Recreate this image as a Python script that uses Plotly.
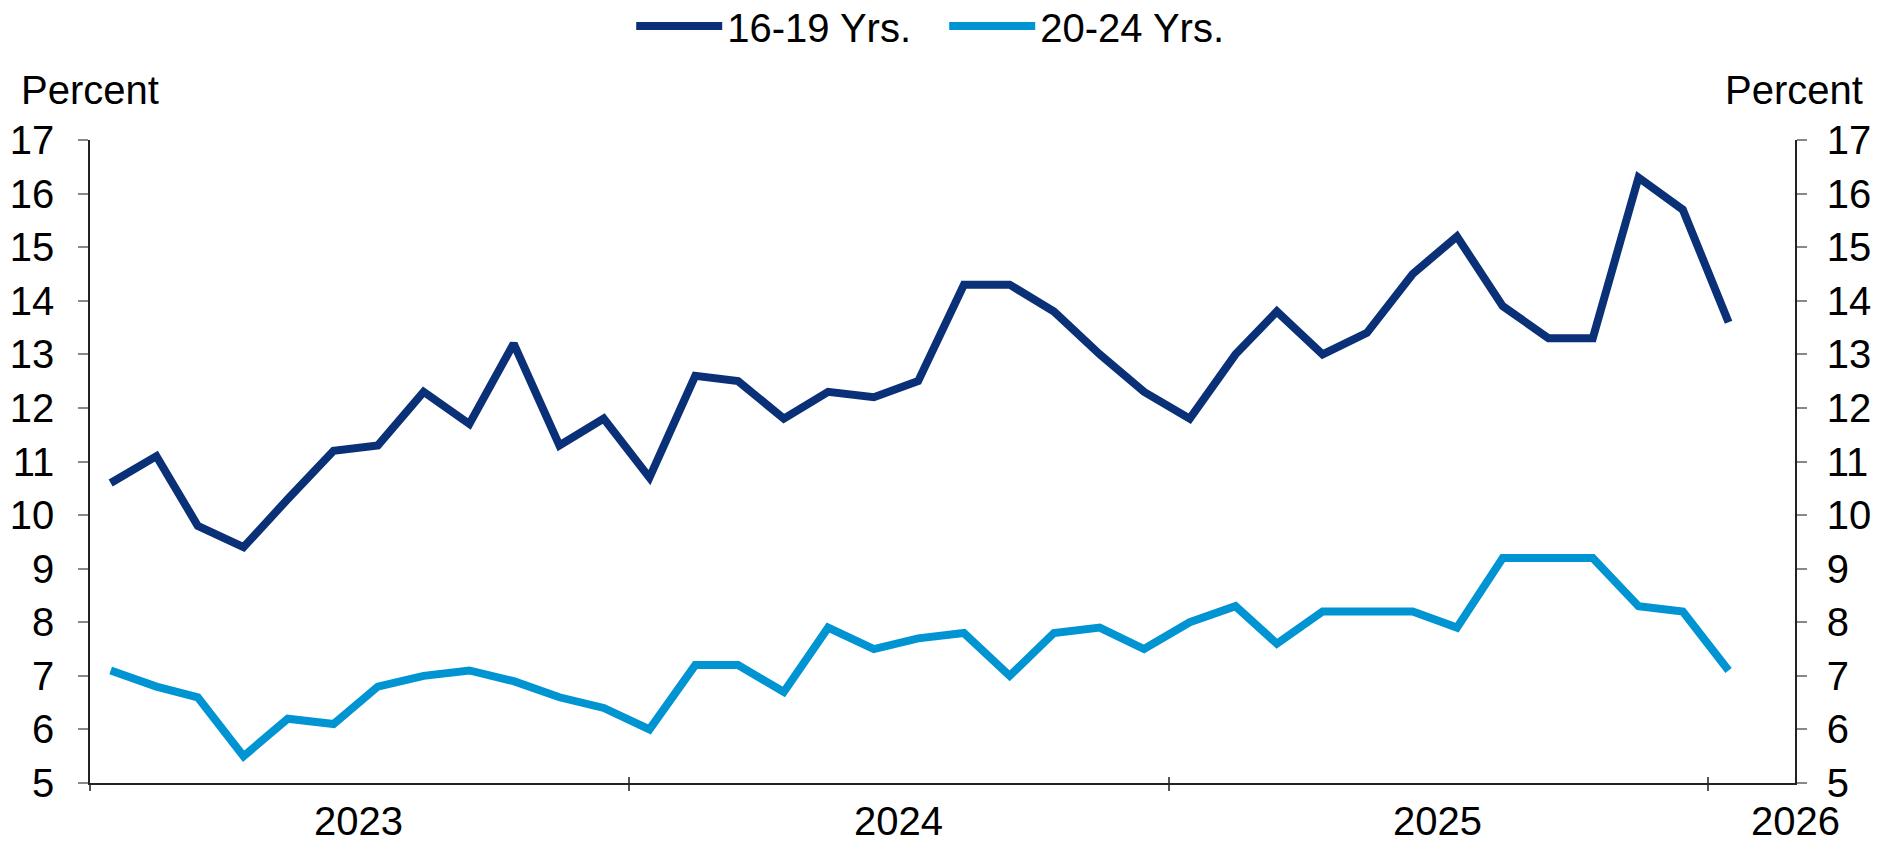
import pandas as pd
import plotly.graph_objects as go

# ---- data ----
months = pd.date_range("2023-01-01", "2026-01-01", freq="MS")
x_dates = [(m + pd.Timedelta(days=14)).strftime("%Y-%m-%d") for m in months]

teens_16_19 = [10.6, 11.1, 9.8, 9.4, 10.3, 11.2, 11.3, 12.3, 11.7, 13.2, 11.3, 11.8,
               10.7, 12.6, 12.5, 11.8, 12.3, 12.2, 12.5, 14.3, 14.3, 13.8, 13.0, 12.3,
               11.8, 13.0, 13.8, 13.0, 13.4, 14.5, 15.2, 13.9, 13.3, 13.3, 16.3, 15.7,
               13.6]
young_20_24 = [7.1, 6.8, 6.6, 5.5, 6.2, 6.1, 6.8, 7.0, 7.1, 6.9, 6.6, 6.4,
               6.0, 7.2, 7.2, 6.7, 7.9, 7.5, 7.7, 7.8, 7.0, 7.8, 7.9, 7.5,
               8.0, 8.3, 7.6, 8.2, 8.2, 8.2, 7.9, 9.2, 9.2, 9.2, 8.3, 8.2,
               7.1]
series_names = ["16-19 Yrs.", "20-24 Yrs."]
series_colors = ["#0A3078", "#0094D3"]

year_labels = ["2023", "2024", "2025", "2026"]
year_label_pos = ["2023-07-02", "2024-07-02", "2025-07-02", "2026-03-01"]
year_ticks = ["2023-01-01", "2024-01-01", "2025-01-01", "2026-01-01"]
x_range = ["2023-01-01", "2026-03-01"]
y_range = [5, 17]

FONT = "Liberation Sans, Arial, sans-serif"
FS = 40

fig = go.Figure()
for name, vals, col in zip(series_names, [teens_16_19, young_20_24], series_colors):
    fig.add_trace(go.Scatter(x=x_dates, y=vals, mode="lines", name=name,
                             line=dict(color=col, width=8), cliponaxis=False))

W, H = 1877, 844
ml, mr, mt, mb = 90, 82, 140, 61
ph = H - mt - mb

fig.update_layout(
    width=W, height=H,
    margin=dict(l=ml, r=mr, t=mt, b=mb, autoexpand=False),
    paper_bgcolor="white", plot_bgcolor="white",
    font=dict(family=FONT, size=FS, color="black"),
    showlegend=True,
    legend=dict(orientation="h", x=0.501, xanchor="center",
                y=1 + 114 / ph, yanchor="middle",
                font=dict(size=FS), itemwidth=86, entrywidth=212,
                bgcolor="rgba(0,0,0,0)"),
    xaxis=dict(type="date", range=x_range, showgrid=False, zeroline=False,
               showline=True, linecolor="#222222", linewidth=1.5,
               tickmode="array", tickvals=year_ticks, ticktext=["" for _ in year_ticks],
               ticks="outside", ticklen=6, tickcolor="#555555", tickwidth=2),
    xaxis2=dict(type="date", range=x_range, overlaying="x", anchor="y", side="bottom",
                showgrid=False, zeroline=False, showline=False,
                tickmode="array", tickvals=year_ticks, ticktext=["" for _ in year_ticks],
                ticks="inside", ticklen=6, tickcolor="#555555", tickwidth=2),
    yaxis=dict(range=y_range, dtick=1, showgrid=False, zeroline=False,
               showline=True, linecolor="#222222", linewidth=1.5,
               ticks="outside", ticklen=10, tickcolor="#888888", tickwidth=2,
               ticklabelstandoff=16, tickfont=dict(size=FS)),
    yaxis2=dict(range=y_range, dtick=1, overlaying="y", side="right", anchor="x",
                showgrid=False, zeroline=False,
                showline=True, linecolor="#222222", linewidth=1.5,
                ticks="outside", ticklen=10, tickcolor="#888888", tickwidth=2,
                ticklabelstandoff=12, tickfont=dict(size=FS)),
)

# invisible trace to activate the secondary axes
fig.add_trace(go.Scatter(x=[x_dates[0]], y=[teens_16_19[0]], xaxis="x2", yaxis="y2",
                         mode="markers", marker=dict(opacity=0), showlegend=False,
                         hoverinfo="skip"))

for lab, pos in zip(year_labels, year_label_pos):
    fig.add_annotation(x=pos, xref="x", y=0, yref="paper", text=lab, showarrow=False,
                       xanchor="center", yanchor="middle", yshift=-38,
                       font=dict(size=FS))

fig.add_annotation(x=0, xref="paper", y=1, yref="paper", text="Percent", showarrow=False,
                   xanchor="left", yanchor="middle", xshift=-71, yshift=50,
                   font=dict(size=FS))
fig.add_annotation(x=1, xref="paper", y=1, yref="paper", text="Percent", showarrow=False,
                   xanchor="right", yanchor="middle", xshift=70, yshift=50,
                   font=dict(size=FS))

fig.write_html("out.html")
